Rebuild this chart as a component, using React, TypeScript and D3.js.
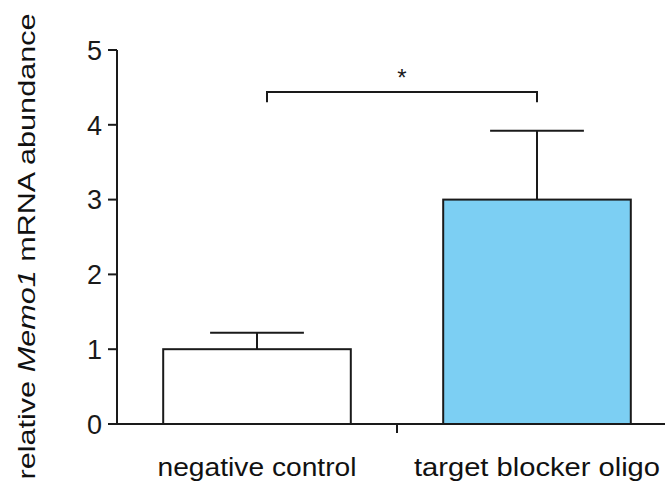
import React from "react";
import * as d3 from "d3";

const categories = ["negative control", "target blocker oligo"];
const means = [1.0, 3.0];
const errors = [0.22, 0.92];
const fills = ["#ffffff", "#7ccff3"];
const yTicks = [0, 1, 2, 3, 4, 5];
const sigLabel = "*";
const sigLevel = 4.44;
const sigLegEnd = 4.3;

const W = 665;
const H = 481;
const FONT = "'Liberation Sans', Arial, Helvetica, sans-serif";
const INK = "#1a1a1a";

export default function App() {
  const x = d3
    .scaleBand<string>()
    .domain(categories)
    .range([117, 677])
    .paddingInner(0.33)
    .paddingOuter(0.165);
  const y = d3.scaleLinear().domain([0, 5]).range([424, 50]);
  const bw = x.bandwidth();
  const capHalf = bw / 4;
  const step = x.step();
  const boundaryTicks = d3.range(1, categories.length).map((i) => 117 + i * step);
  const labelLengths = [199, 246];

  const c0 = (x(categories[0]) as number) + bw / 2;
  const c1 = (x(categories[1]) as number) + bw / 2;

  return (
    <svg width={W} height={H} style={{ display: "block", position: "absolute", left: 0, top: 0 }}>
      <rect width={W} height={H} fill="#fff" />

      {/* bars with upward error bars */}
      {categories.map((c, i) => {
        const x0 = x(c) as number;
        const cx = x0 + bw / 2;
        return (
          <g key={c}>
            <line x1={cx} x2={cx} y1={y(means[i])} y2={y(means[i] + errors[i])} stroke={INK} strokeWidth={2} />
            <line x1={cx - capHalf} x2={cx + capHalf} y1={y(means[i] + errors[i])} y2={y(means[i] + errors[i])} stroke={INK} strokeWidth={2} />
            <rect x={x0} y={y(means[i])} width={bw} height={y(0) - y(means[i])} fill={fills[i]} stroke={INK} strokeWidth={2} />
          </g>
        );
      })}

      {/* y axis */}
      <line x1={117} x2={117} y1={y(5)} y2={y(0)} stroke={INK} strokeWidth={2} />
      {yTicks.map((t) => (
        <g key={t}>
          <line x1={108} x2={117} y1={y(t)} y2={y(t)} stroke={INK} strokeWidth={2} />
          <text x={102} y={y(t)} dy="0.36em" textAnchor="end" fontFamily={FONT} fontSize={27} fill={INK}>
            {t}
          </text>
        </g>
      ))}

      {/* x axis */}
      <line x1={108} x2={W} y1={y(0)} y2={y(0)} stroke={INK} strokeWidth={2} />
      {boundaryTicks.map((bx) => (
        <line key={bx} x1={bx} x2={bx} y1={y(0)} y2={y(0) + 9} stroke={INK} strokeWidth={2} />
      ))}
      {categories.map((c, i) => (
        <text
          key={c}
          x={(x(c) as number) + bw / 2}
          y={476}
          textAnchor="middle"
          fontFamily={FONT}
          fontSize={25}
          fill="#111"
          textLength={labelLengths[i]}
          lengthAdjust="spacingAndGlyphs"
        >
          {c}
        </text>
      ))}

      {/* y axis title */}
      <text
        transform="translate(35,246.5) rotate(-90)"
        textAnchor="middle"
        fontFamily={FONT}
        fontSize={24}
        fill="#111"
        textLength={466}
        lengthAdjust="spacingAndGlyphs"
      >
        relative <tspan fontStyle="italic">Memo1</tspan> mRNA abundance
      </text>

      {/* significance bracket */}
      <path
        d={`M${c0 + 10},${y(sigLegEnd)}V${y(sigLevel)}H${c1}V${y(sigLegEnd)}`}
        fill="none"
        stroke={INK}
        strokeWidth={2}
      />
      <text x={(c0 + 10 + c1) / 2} y={86} textAnchor="middle" fontFamily={FONT} fontSize={24} fill={INK}>
        {sigLabel}
      </text>
    </svg>
  );
}
